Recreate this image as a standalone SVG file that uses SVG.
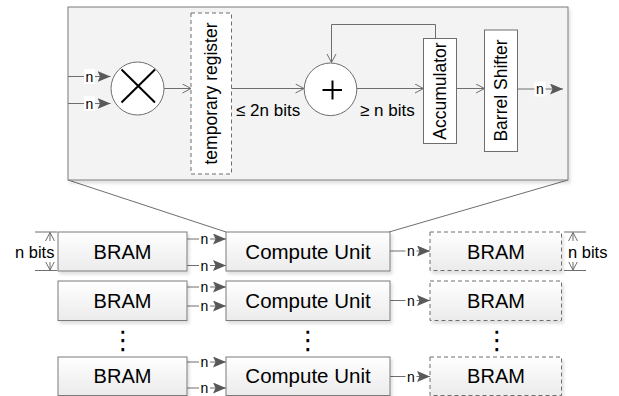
<svg xmlns="http://www.w3.org/2000/svg" width="619" height="396" viewBox="0 0 619 396">
<style>
.t{font-family:"Liberation Sans",Arial,sans-serif;fill:#000}
.box{stroke:#7a7a7a;stroke-width:1;fill:url(#g)}
.dash{stroke:#6e6e6e;stroke-width:1;stroke-dasharray:4 3;fill:url(#g)}
.wbox{stroke:#6e6e6e;stroke-width:1;fill:#fff}
.ln{stroke:#6e6e6e;stroke-width:1;fill:none}
.fa{stroke:#6e6e6e;stroke-width:1;fill:none;marker-end:url(#fill)}
.oa{stroke:#6e6e6e;stroke-width:1;fill:none;marker-end:url(#open)}
.n{font-size:14px}
.wb{fill:#fff}
.dots{font-family:"DejaVu Sans",sans-serif;font-size:26px;fill:#000}
</style>
<defs>
<linearGradient id="g" x1="0" y1="0" x2="0" y2="1">
<stop offset="0" stop-color="#ffffff"/>
<stop offset="1" stop-color="#ebebeb"/>
</linearGradient>
<filter id="sh" x="-5%" y="-5%" width="115%" height="130%">
<feDropShadow dx="2" dy="3" stdDeviation="1.5" flood-color="#000" flood-opacity="0.12"/>
</filter>
<marker id="fill" markerUnits="userSpaceOnUse" markerWidth="16" markerHeight="14" refX="13" refY="5.5" orient="auto">
<path d="M0,0 L13,5.5 L0,11 L2.5,5.5 z" fill="#595959"/>
</marker>
<marker id="open" markerUnits="userSpaceOnUse" markerWidth="12" markerHeight="12" refX="9" refY="5" orient="auto">
<path d="M0.5,0.5 L9,5 L0.5,9.5" fill="none" stroke="#6e6e6e" stroke-width="1"/>
</marker>
<marker id="openS" markerUnits="userSpaceOnUse" markerWidth="12" markerHeight="12" refX="9" refY="5" orient="auto-start-reverse">
<path d="M0.5,0.5 L9,5 L0.5,9.5" fill="none" stroke="#6e6e6e" stroke-width="1"/>
</marker>
</defs>
<rect width="619" height="396" fill="#fff"/>

<g id="zoom-lines">
<line class="ln" x1="68" y1="180" x2="226" y2="232"/>
<line class="ln" x1="568" y1="180" x2="389" y2="232"/>
</g>

<g id="compute-detail">
<rect x="68" y="7" width="500" height="173" fill="#f3f3f3" stroke="#7a7a7a" filter="url(#sh)"/>
</g>

<g id="multiplier">
<circle cx="137.5" cy="88.5" r="26.5" fill="#fff" stroke="#6e6e6e"/>
<line x1="121.5" y1="69.5" x2="155" y2="102.5" stroke="#000" stroke-width="2"/>
<line x1="155" y1="69.5" x2="121.5" y2="102.5" stroke="#000" stroke-width="2"/>
</g>
<g id="temp-register">
<rect class="dash" x="191" y="13" width="40.5" height="161" style="fill:#fff"/>
<text class="t" font-size="17.5" transform="translate(217,93.5) rotate(-90)" text-anchor="middle">temporary register</text>
</g>
<g id="adder">
<circle cx="330.5" cy="89.3" r="26.3" fill="#fff" stroke="#6e6e6e"/>
<line x1="322.5" y1="90" x2="342" y2="90" stroke="#000" stroke-width="2"/>
<line x1="332.5" y1="80.5" x2="332.5" y2="99.5" stroke="#000" stroke-width="2"/>
</g>
<g id="accumulator">
<rect class="wbox" x="423.5" y="38.5" width="33" height="105"/>
<text class="t" font-size="17.5" transform="translate(446,91) rotate(-90)" text-anchor="middle">Accumulator</text>
</g>
<g id="barrel-shifter">
<rect class="wbox" x="484.5" y="30" width="33" height="121.5"/>
<text class="t" font-size="17.5" transform="translate(507,90.5) rotate(-90)" text-anchor="middle">Barrel Shifter</text>
</g>

<g id="connectors">
<line class="fa" x1="68" y1="76.5" x2="110.5" y2="76.5"/>
<rect class="wb" x="84" y="69" width="11" height="15"/>
<text class="t n" x="89.5" y="81.5" text-anchor="middle">n</text>
<line class="fa" x1="68" y1="103.5" x2="110.5" y2="103.5"/>
<rect class="wb" x="84" y="96" width="11" height="15"/>
<text class="t n" x="89.5" y="108.5" text-anchor="middle">n</text>

<line class="oa" x1="164" y1="88.5" x2="191" y2="88.5"/>
<line class="oa" x1="231.5" y1="88.5" x2="304" y2="88.5"/>
<text class="t" font-size="17" x="236" y="116">≤ 2n bits</text>
<line class="oa" x1="356.8" y1="88.5" x2="423.5" y2="88.5"/>
<text class="t" font-size="17" x="360" y="116">≥ n bits</text>
<line class="oa" x1="456.5" y1="88.5" x2="484.5" y2="88.5"/>
<polyline class="ln" points="435.5,38.5 435.5,24.5 331.5,24.5 331.5,62.5" style="marker-end:url(#open)"/>
<line class="fa" x1="517.5" y1="89" x2="563" y2="89"/>
<rect class="wb" x="534.5" y="81.5" width="11" height="15"/>
<text class="t n" x="540" y="94" text-anchor="middle">n</text>

<!-- row 1 -->
<line class="fa" x1="187" y1="239" x2="226" y2="239"/>
<rect class="wb" x="199" y="231.5" width="11" height="15"/>
<text class="t n" x="204.5" y="244" text-anchor="middle">n</text>
<line class="fa" x1="187" y1="265.5" x2="226" y2="265.5"/>
<rect class="wb" x="199" y="258" width="11" height="15"/>
<text class="t n" x="204.5" y="270.5" text-anchor="middle">n</text>
<line class="fa" x1="390" y1="251" x2="430" y2="251"/>
<rect class="wb" x="405.5" y="243.5" width="11" height="15"/>
<text class="t n" x="411" y="256" text-anchor="middle">n</text>
<!-- row 2 -->
<line class="fa" x1="187" y1="287" x2="226" y2="287"/>
<rect class="wb" x="199" y="279.5" width="11" height="15"/>
<text class="t n" x="204.5" y="292" text-anchor="middle">n</text>
<line class="fa" x1="187" y1="306" x2="226" y2="306"/>
<rect class="wb" x="199" y="298.5" width="11" height="15"/>
<text class="t n" x="204.5" y="311" text-anchor="middle">n</text>
<line class="fa" x1="390" y1="300.5" x2="430" y2="300.5"/>
<rect class="wb" x="405.5" y="293" width="11" height="15"/>
<text class="t n" x="411" y="305.5" text-anchor="middle">n</text>
<!-- row 3 -->
<line class="fa" x1="187" y1="362" x2="226" y2="362"/>
<rect class="wb" x="199" y="354.5" width="11" height="15"/>
<text class="t n" x="204.5" y="367" text-anchor="middle">n</text>
<line class="fa" x1="187" y1="388" x2="226" y2="388"/>
<rect class="wb" x="199" y="380.5" width="11" height="15"/>
<text class="t n" x="204.5" y="393" text-anchor="middle">n</text>
<line class="fa" x1="390" y1="376.5" x2="430" y2="376.5"/>
<rect class="wb" x="405.5" y="369" width="11" height="15"/>
<text class="t n" x="411" y="381.5" text-anchor="middle">n</text>
</g>

<g id="bram-in-1"><rect class="box" x="58" y="232" width="129" height="39" filter="url(#sh)"/><text class="t" font-size="20" x="122.5" y="258.5" text-anchor="middle">BRAM</text></g>
<g id="cu-1"><rect class="box" x="226" y="232" width="164" height="39" filter="url(#sh)"/><text class="t" font-size="20.5" x="308" y="258.5" text-anchor="middle">Compute Unit</text></g>
<g id="bram-out-1"><rect class="dash" x="430" y="232" width="131.5" height="38.5" filter="url(#sh)"/><text class="t" font-size="20" x="496" y="258.5" text-anchor="middle">BRAM</text></g>

<g id="bram-in-2"><rect class="box" x="58" y="281" width="129" height="39.5" filter="url(#sh)"/><text class="t" font-size="20" x="122.5" y="307.5" text-anchor="middle">BRAM</text></g>
<g id="cu-2"><rect class="box" x="226" y="281" width="164" height="39.5" filter="url(#sh)"/><text class="t" font-size="20.5" x="308" y="307.5" text-anchor="middle">Compute Unit</text></g>
<g id="bram-out-2"><rect class="dash" x="430" y="281" width="131.5" height="39.5" filter="url(#sh)"/><text class="t" font-size="20" x="496" y="307.5" text-anchor="middle">BRAM</text></g>

<g id="bram-in-3"><rect class="box" x="58" y="357" width="129" height="38.5" filter="url(#sh)"/><text class="t" font-size="20" x="122.5" y="383" text-anchor="middle">BRAM</text></g>
<g id="cu-3"><rect class="box" x="226" y="357" width="164" height="38.5" filter="url(#sh)"/><text class="t" font-size="20.5" x="308" y="383" text-anchor="middle">Compute Unit</text></g>
<g id="bram-out-3"><rect class="dash" x="430" y="357" width="131.5" height="38.5" filter="url(#sh)"/><text class="t" font-size="20" x="496" y="383" text-anchor="middle">BRAM</text></g>

<g id="ellipses">
<text class="dots" x="123" y="349" text-anchor="middle">⋮</text>
<text class="dots" x="308" y="349" text-anchor="middle">⋮</text>
<text class="dots" x="497" y="349" text-anchor="middle">⋮</text>
</g>

<g id="dim-left">
<line class="ln" x1="35" y1="232" x2="57" y2="232"/>
<line class="ln" x1="35" y1="270.5" x2="57" y2="270.5"/>
<line class="ln" x1="50" y1="232.5" x2="50" y2="270" style="marker-start:url(#openS);marker-end:url(#open)"/>
<rect class="wb" x="14" y="241" width="41" height="21"/>
<text class="t" font-size="16.5" x="15" y="258">n bits</text>
</g>
<g id="dim-right">
<line class="ln" x1="564" y1="232" x2="586" y2="232"/>
<line class="ln" x1="564" y1="270.5" x2="586" y2="270.5"/>
<line class="ln" x1="573" y1="232.5" x2="573" y2="270" style="marker-start:url(#openS);marker-end:url(#open)"/>
<rect class="wb" x="567" y="241" width="42" height="21"/>
<text class="t" font-size="16.5" x="568" y="258">n bits</text>
</g>
</svg>
